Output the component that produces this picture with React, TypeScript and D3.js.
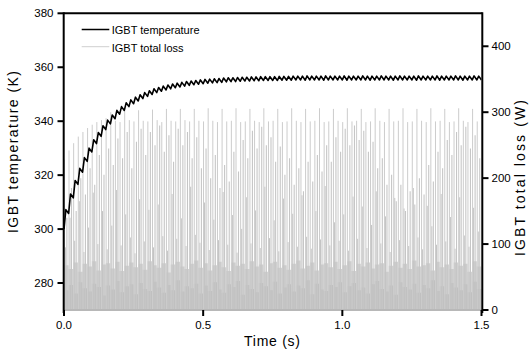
import React from 'react';
import * as d3 from 'd3';

// period of the switching / ripple pattern (s)
const CYCLE = 1 / 60;

const xTicks = [0, 0.5, 1.0, 1.5];
const xTickLabels = ['0.0', '0.5', '1.0', '1.5'];
const tempTicks = [280, 300, 320, 340, 360, 380];
const lossTicks = [0, 100, 200, 300, 400];

// IGBT temperature (K): minimum of each ripple cycle (91 values, t = k * CYCLE)
const tempLow = [
  300.0, 305.8, 311.6, 316.6, 321.1, 325.1, 328.6, 331.7, 334.4, 336.9,
  339.0, 340.9, 342.6, 344.0, 345.4, 346.5, 347.5, 348.4, 349.2, 349.9,
  350.6, 351.1, 351.6, 352.0, 352.4, 352.7, 353.0, 353.3, 353.5, 353.7,
  353.9, 354.1, 354.2, 354.3, 354.4, 354.6, 354.7, 354.7, 354.8, 354.9,
  354.9, 355.0, 355.0, 355.1, 355.1, 355.1, 355.1, 355.2, 355.2, 355.2,
  355.3, 355.3, 355.2, 355.3, 355.3, 355.3, 355.2, 355.3, 355.3, 355.3,
  355.3, 355.2, 355.3, 355.3, 355.3, 355.3, 355.2, 355.3, 355.3, 355.3,
  355.3, 355.2, 355.3, 355.3, 355.3, 355.3, 355.2, 355.3, 355.3, 355.3,
  355.3, 355.2, 355.3, 355.3, 355.3, 355.3, 355.2, 355.3, 355.3, 355.3,
  355.3,
];
// IGBT temperature (K): maximum of each ripple cycle (90 values)
const tempHigh = [
  307.2, 313.0, 318.0, 322.5, 326.5, 330.0, 333.1, 335.8, 338.3, 340.4,
  342.3, 344.0, 345.4, 346.8, 347.9, 348.9, 349.8, 350.6, 351.3, 352.0,
  352.5, 353.0, 353.4, 353.8, 354.1, 354.4, 354.7, 354.9, 355.1, 355.3,
  355.5, 355.6, 355.7, 355.8, 356.0, 356.1, 356.1, 356.2, 356.3, 356.3,
  356.4, 356.4, 356.5, 356.5, 356.5, 356.5, 356.6, 356.6, 356.6, 356.7,
  356.7, 356.7, 356.8, 356.7, 356.7, 356.7, 356.8, 356.7, 356.7, 356.7,
  356.8, 356.7, 356.7, 356.7, 356.8, 356.7, 356.7, 356.7, 356.8, 356.7,
  356.7, 356.7, 356.8, 356.7, 356.7, 356.7, 356.8, 356.7, 356.7, 356.7,
  356.8, 356.7, 356.7, 356.7, 356.8, 356.7, 356.7, 356.7, 356.8, 356.7,
];

// IGBT total loss (W): tallest spike of each cycle
const peakLoss = [
  228, 242, 253, 263, 270, 276, 281, 285, 288, 291,
  300, 287, 285, 302, 288, 286, 303, 287, 286, 304,
  288, 285, 305, 287, 286, 305, 288, 286, 305, 287,
  286, 306, 287, 285, 305, 286, 287, 306, 285, 286,
  305, 287, 285, 306, 286, 287, 305, 285, 286, 306,
  287, 285, 305, 286, 287, 306, 285, 286, 305, 287,
  285, 306, 286, 287, 305, 285, 286, 306, 287, 285,
  305, 286, 287, 306, 285, 286, 305, 287, 285, 306,
  286, 287, 305, 285, 286, 306, 287, 285, 305, 286,
];
// second spike of each cycle
const midLoss = [
  140, 185, 150, 200, 175, 215, 190, 235, 205, 245,
  220, 260, 230, 270, 215, 255, 275, 235, 270, 250,
  280, 240, 265, 225, 275, 250, 270, 230, 262, 215,
  245, 200, 235, 185, 220, 195, 240, 210, 258, 230,
  272, 245, 278, 250, 262, 225, 248, 205, 230, 190,
  215, 180, 225, 195, 235, 210, 250, 225, 262, 240,
  275, 250, 280, 258, 272, 240, 255, 215, 230, 190,
  205, 165, 190, 150, 180, 160, 200, 175, 220, 195,
  240, 215, 258, 235, 270, 250, 278, 245, 265, 230,
];
// third, lower spike of each cycle
const subLoss = [
  95, 140, 105, 165, 88, 125, 178, 100, 150, 92,
  128, 182, 98, 145, 110, 86, 168, 104, 152, 95,
  160, 112, 90, 176, 108, 139, 97, 187, 114, 102,
  163, 91, 137, 106, 179, 99, 144, 87, 123, 171,
  101, 151, 94, 187, 109, 136, 89, 169, 103, 146,
  96, 174, 111, 93, 150, 107, 188, 98, 133, 105,
  145, 90, 172, 108, 157, 94, 129, 180, 101, 142,
  88, 170, 106, 154, 97, 185, 110, 92, 158, 127,
  99, 176, 104, 141, 93, 171, 113, 96, 155, 119,
];
// upper edge of the dense base band of each cycle (W)
const baseLoss = [
  68, 62, 72, 58, 70, 66, 74, 60, 69, 71, 63, 73, 59, 67, 72, 65, 70, 61, 74, 68,
  64, 71, 57, 69, 73, 66, 62, 70, 75, 64, 71, 60, 68, 73, 65, 59, 72, 67, 70, 62,
  74, 66, 69, 58, 71, 73, 64, 68, 61, 70, 75, 63, 67, 72, 60, 69, 71, 65, 73, 62,
  68, 74, 59, 70, 66, 72, 63, 69, 71, 58, 67, 73, 64, 70, 62, 75, 66, 68, 71, 60,
  73, 65, 69, 62, 72, 67, 70, 58, 74, 66,
];
// solid floor of the base band of each cycle (W)
const floorLoss = [
  30, 38, 25, 42, 33, 28, 40, 35, 22, 37, 31, 44, 27, 36, 39, 24, 41, 32, 29, 43,
  34, 26, 38, 30, 45, 28, 36, 33, 40, 25, 37, 29, 42, 31, 26, 39, 35, 44, 23, 38,
  32, 27, 41, 36, 30, 43, 25, 34, 39, 28, 37, 33, 45, 24, 40, 31, 29, 38, 35, 42,
  27, 36, 41, 30, 34, 25, 39, 44, 32, 28, 37, 23, 42, 35, 31, 40, 26, 38, 33, 45,
  29, 36, 24, 41, 34, 30, 39, 27, 43, 32,
];

const FONT = '"Liberation Sans", Arial, Helvetica, sans-serif';

export default function App() {
  const W = 532;
  const H = 351;
  const L = 64;
  const R = 481.5;
  const T = 13.3;
  const B = 310;

  const x = d3.scaleLinear().domain([0, 1.5]).range([L, R]);
  const yT = d3.scaleLinear().domain([270, 380]).range([B, T]);
  const yL = d3.scaleLinear().domain([0, 450]).range([B, T]);

  const tempPts: [number, number][] = [];
  tempHigh.forEach((v, k) => {
    tempPts.push([k * CYCLE, tempLow[k]]);
    tempPts.push([(k + 0.4) * CYCLE, v]);
  });
  tempPts.push([tempHigh.length * CYCLE, tempLow[tempLow.length - 1]]);
  const tempPath = d3
    .line<[number, number]>()
    .x((d) => x(d[0]))
    .y((d) => yT(d[1]))(tempPts) as string;

  const stepData = (arr: number[]) => {
    const pts: [number, number][] = arr.map((v, k) => [k * CYCLE, v]);
    pts.push([arr.length * CYCLE, arr[arr.length - 1]]);
    return pts;
  };
  const area = d3
    .area<[number, number]>()
    .curve(d3.curveStepAfter)
    .x((d) => x(d[0]))
    .y0(yL(0))
    .y1((d) => yL(d[1]));

  const basePath = area(stepData(baseLoss)) as string;
  const floorPath = area(stepData(floorLoss)) as string;

  const spikes = (arr: number[], off: number, color: string, w: number, key: string) =>
    arr.map((v, k) => (
      <line
        key={key + k}
        x1={x((k + off) * CYCLE)}
        x2={x((k + off) * CYCLE)}
        y1={yL(0)}
        y2={yL(v)}
        stroke={color}
        strokeWidth={w}
      />
    ));

  return (
    <svg
      width={W}
      height={H}
      style={{ position: 'absolute', left: 0, top: 0, background: '#fff' }}
      fontFamily={FONT}
    >
      <defs>
        <clipPath id="plotclip">
          <rect x={L} y={T} width={R - L} height={B - T} />
        </clipPath>
      </defs>
      <rect x={0} y={0} width={W} height={H} fill="#fff" />

      <g clipPath="url(#plotclip)">
        <path d={basePath} fill="#d2d2d2" />
        <path d={floorPath} fill="#c0c0c0" />
        {spikes(subLoss, 0.3, '#c4c4c4', 1, 's')}
        {spikes(midLoss, 0.62, '#c6c6c6', 1.1, 'm')}
        {spikes(peakLoss, 0.08, '#cccccc', 1, 'p')}
        <path d={tempPath} fill="none" stroke="#000" strokeWidth={1.6} strokeLinejoin="round" />
      </g>

      {/* frame */}
      <line x1={L} x2={R} y1={B} y2={B} stroke="#b8b8b8" strokeWidth={2} />
      <line x1={L - 0.3} x2={R + 0.8} y1={T} y2={T} stroke="#000" strokeWidth={2} />
      <line x1={L - 0.3} x2={L - 0.3} y1={T - 1} y2={B + 3} stroke="#000" strokeWidth={2} />
      <line x1={R + 0.8} x2={R + 0.8} y1={T - 1} y2={B + 3} stroke="#000" strokeWidth={2} />

      {/* left axis */}
      {tempTicks.map((t) => (
        <g key={'lt' + t}>
          <line x1={L - 6.5} x2={L - 0.3} y1={yT(t)} y2={yT(t)} stroke="#000" strokeWidth={2} />
          <text x={53.5} y={yT(t) + 4} textAnchor="end" fontSize={11.5} fill="#000">
            {t}
          </text>
        </g>
      ))}
      {/* right axis */}
      {lossTicks.map((t) => (
        <g key={'rt' + t}>
          <line x1={R + 0.8} x2={R + 7} y1={yL(t)} y2={yL(t)} stroke="#000" strokeWidth={2} />
          <text x={491.5} y={yL(t) + 4} textAnchor="start" fontSize={11.5} fill="#000">
            {t}
          </text>
        </g>
      ))}
      {/* bottom axis */}
      {xTicks.map((t, i) => (
        <g key={'bt' + t}>
          <line x1={x(t)} x2={x(t)} y1={B} y2={B + 6} stroke="#000" strokeWidth={2} />
          <text x={x(t)} y={329} textAnchor="middle" fontSize={11.5} fill="#000">
            {xTickLabels[i]}
          </text>
        </g>
      ))}

      {/* axis titles */}
      <text x={272} y={346} textAnchor="middle" fontSize={14} textLength={56} lengthAdjust="spacing">
        Time (s)
      </text>
      <text
        transform="translate(17.5,152) rotate(-90)"
        textAnchor="middle"
        fontSize={14}
        textLength={162}
        lengthAdjust="spacing"
      >
        IGBT temperature (K)
      </text>
      <text
        transform="translate(524.5,178) rotate(-90)"
        textAnchor="middle"
        fontSize={14}
        textLength={156}
        lengthAdjust="spacing"
      >
        IGBT total loss (W)
      </text>

      {/* legend */}
      <line x1={81.7} x2={109.3} y1={29.5} y2={29.5} stroke="#000" strokeWidth={1.5} />
      <text x={111.7} y={34.3} fontSize={11}>
        IGBT temperature
      </text>
      <line x1={81.7} x2={109.3} y1={46.7} y2={46.7} stroke="#cfcfcf" strokeWidth={1} />
      <text x={111.7} y={51.7} fontSize={11}>
        IGBT total loss
      </text>
    </svg>
  );
}
